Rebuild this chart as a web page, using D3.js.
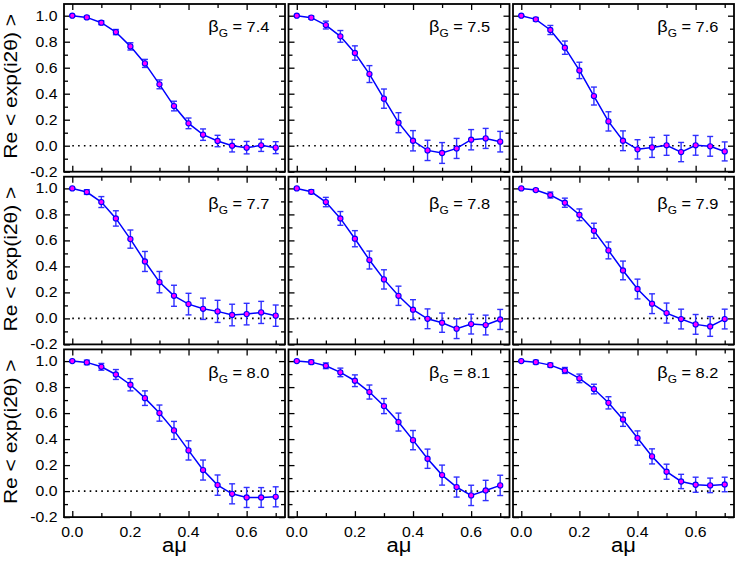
<!DOCTYPE html>
<html>
<head>
<meta charset="utf-8">
<script src="https://cdn.jsdelivr.net/npm/d3@7"></script>
<style>
  html, body { margin: 0; padding: 0; background: #fff; }
  svg { display: block; font-family: "Liberation Sans", Arial, sans-serif; }
</style>
</head>
<body>
<svg id="chart" width="736" height="561"></svg>
<script>
// ---------------- data ----------------
const aMu = [0.00, 0.05, 0.10, 0.15, 0.20, 0.25, 0.30, 0.35, 0.40, 0.45, 0.50, 0.55, 0.60, 0.65, 0.70];
const betaLabels = ["7.4", "7.5", "7.6", "7.7", "7.8", "7.9", "8.0", "8.1", "8.2"];

const val74 = [1.000, 0.987, 0.946, 0.874, 0.764, 0.633, 0.472, 0.305, 0.172, 0.085, 0.036, 0.000, -0.015, 0.003, -0.015];
const err74 = [0.003, 0.010, 0.015, 0.020, 0.028, 0.031, 0.034, 0.037, 0.041, 0.044, 0.044, 0.048, 0.048, 0.047, 0.046];
const val75 = [1.000, 0.985, 0.928, 0.841, 0.713, 0.551, 0.362, 0.177, 0.038, -0.036, -0.056, -0.021, 0.046, 0.056, 0.031];
const err75 = [0.003, 0.012, 0.030, 0.045, 0.055, 0.065, 0.074, 0.077, 0.078, 0.078, 0.080, 0.077, 0.078, 0.077, 0.079];
const val76 = [1.000, 0.972, 0.890, 0.754, 0.579, 0.382, 0.187, 0.038, -0.028, -0.013, 0.003, -0.049, 0.003, -0.005, -0.044];
const err76 = [0.003, 0.014, 0.035, 0.051, 0.063, 0.069, 0.074, 0.076, 0.074, 0.077, 0.077, 0.074, 0.076, 0.076, 0.073];
const val77 = [1.000, 0.972, 0.895, 0.769, 0.610, 0.438, 0.279, 0.174, 0.110, 0.074, 0.054, 0.026, 0.033, 0.046, 0.021];
const err77 = [0.005, 0.018, 0.042, 0.059, 0.070, 0.077, 0.082, 0.081, 0.083, 0.082, 0.085, 0.083, 0.083, 0.085, 0.082];
const val78 = [1.000, 0.974, 0.895, 0.769, 0.613, 0.449, 0.300, 0.174, 0.067, -0.003, -0.033, -0.079, -0.044, -0.051, -0.008];
const err78 = [0.004, 0.015, 0.036, 0.053, 0.062, 0.069, 0.074, 0.074, 0.077, 0.076, 0.074, 0.076, 0.076, 0.076, 0.077];
const val79 = [1.000, 0.987, 0.949, 0.890, 0.797, 0.674, 0.523, 0.369, 0.226, 0.113, 0.041, -0.005, -0.046, -0.062, -0.005];
const err79 = [0.003, 0.010, 0.023, 0.035, 0.045, 0.058, 0.065, 0.072, 0.076, 0.076, 0.077, 0.076, 0.076, 0.076, 0.076];
const val80 = [1.000, 0.990, 0.956, 0.897, 0.818, 0.715, 0.600, 0.467, 0.313, 0.162, 0.046, -0.021, -0.049, -0.049, -0.044];
const err80 = [0.005, 0.017, 0.026, 0.038, 0.047, 0.056, 0.062, 0.069, 0.074, 0.077, 0.078, 0.077, 0.077, 0.076, 0.077];
const val81 = [1.000, 0.992, 0.964, 0.913, 0.849, 0.762, 0.654, 0.531, 0.392, 0.249, 0.123, 0.031, -0.033, 0.005, 0.044];
const err81 = [0.004, 0.015, 0.022, 0.033, 0.045, 0.054, 0.058, 0.069, 0.074, 0.074, 0.077, 0.077, 0.078, 0.078, 0.078];
const val82 = [1.000, 0.992, 0.969, 0.928, 0.867, 0.785, 0.679, 0.551, 0.408, 0.267, 0.149, 0.074, 0.049, 0.044, 0.051];
const err82 = [0.003, 0.014, 0.015, 0.023, 0.033, 0.037, 0.047, 0.053, 0.055, 0.058, 0.058, 0.055, 0.058, 0.056, 0.056];

const panelValues = [val74, val75, val76, val77, val78, val79, val80, val81, val82];
const panelErrors = [err74, err75, err76, err77, err78, err79, err80, err81, err82];

const xTicks = [0.0, 0.1, 0.2, 0.3, 0.4, 0.5, 0.6, 0.7];
const xTickLabels = ["0.0", "0.2", "0.4", "0.6"];
const yTicks = [-0.2, -0.1, 0.0, 0.1, 0.2, 0.3, 0.4, 0.5, 0.6, 0.7, 0.8, 0.9, 1.0];
const yTickLabels = ["-0.2", "0.0", "0.2", "0.4", "0.6", "0.8", "1.0"];

// ---------------- layout ----------------
const colLeft = [64, 288.5, 513];
const rowTop = [4, 176.7, 349.4];
const panelW = 221;
const panelH = 167.7;
const xDomain = [-0.0285, 0.732];
const yDomain = [-0.2, 1.09];
const labelX = [144.3, 140.5, 144.3];      // beta label offset from panel left
const labelY = [28, 32, 28.3];              // beta label baseline from panel top
const WIDE = 1.13;                          // horizontal glyph widening

const BLUE = "#0000ff";
const ERR = "#3030ff";
const MAGENTA = "#ff00ff";

const svg = d3.select("#chart");

function wideText(parent, x, y, size, anchor, str, rot) {
  const t = parent.append("text")
    .attr("transform", `translate(${x},${y})` + (rot ? ` rotate(${rot})` : "") + ` scale(${WIDE},1)`)
    .attr("text-anchor", anchor).attr("font-size", size).attr("fill", "#000");
  if (str !== null) t.text(str);
  return t;
}

panelValues.forEach((vals, i) => {
  const r = Math.floor(i / 3), c = i % 3;
  const x0 = colLeft[c], y0 = rowTop[r];
  const x = d3.scaleLinear().domain(xDomain).range([x0, x0 + panelW]);
  const y = d3.scaleLinear().domain(yDomain).range([y0 + panelH, y0]);
  const g = svg.append("g");
  const errs = panelErrors[i];

  const isMajor = d => Math.abs(Math.round(d * 10) % 2) === 0;

  const axB = g.append("g").attr("transform", `translate(0,${y0 + panelH})`)
    .call(d3.axisBottom(x).tickValues(xTicks).tickSize(0).tickFormat(""));
  const axT = g.append("g").attr("transform", `translate(0,${y0})`)
    .call(d3.axisTop(x).tickValues(xTicks).tickSize(0).tickFormat(""));
  const axL = g.append("g").attr("transform", `translate(${x0},0)`)
    .call(d3.axisLeft(y).tickValues(yTicks).tickSize(0).tickFormat(""));
  const axR = g.append("g").attr("transform", `translate(${x0 + panelW},0)`)
    .call(d3.axisRight(y).tickValues(yTicks).tickSize(0).tickFormat(""));
  [axB, axT, axL, axR].forEach(a => a.select(".domain").remove());
  axB.selectAll(".tick line").attr("y2", d => -(isMajor(d) ? 6 : 4)).attr("stroke", "#000").attr("stroke-width", 1.3);
  axT.selectAll(".tick line").attr("y2", d => (isMajor(d) ? 6 : 4)).attr("stroke", "#000").attr("stroke-width", 1.3);
  axL.selectAll(".tick line").attr("x2", d => (isMajor(d) ? 6 : 4)).attr("stroke", "#000").attr("stroke-width", 1.3);
  axR.selectAll(".tick line").attr("x2", d => -(isMajor(d) ? 6 : 4)).attr("stroke", "#000").attr("stroke-width", 1.3);

  // frame
  g.append("rect").attr("x", x0).attr("y", y0).attr("width", panelW).attr("height", panelH)
    .attr("fill", "none").attr("stroke", "#000").attr("stroke-width", 1.8);

  // zero dotted line
  g.append("line").attr("x1", x(0)).attr("x2", x(0.7)).attr("y1", y(0)).attr("y2", y(0))
    .attr("stroke", "#000").attr("stroke-width", 1.6).attr("stroke-dasharray", "1.6,4.2");

  // error bars
  const eb = g.append("g").attr("stroke", ERR).attr("stroke-width", 1.4);
  vals.forEach((v, k) => {
    const e = errs[k];
    const xx = x(aMu[k]);
    eb.append("line").attr("x1", xx).attr("x2", xx).attr("y1", y(v - e)).attr("y2", y(v + e));
    eb.append("line").attr("x1", xx - 3).attr("x2", xx + 3).attr("y1", y(v - e)).attr("y2", y(v - e));
    eb.append("line").attr("x1", xx - 3).attr("x2", xx + 3).attr("y1", y(v + e)).attr("y2", y(v + e));
  });

  // line
  const line = d3.line().x((d, k) => x(aMu[k])).y(d => y(d));
  g.append("path").datum(vals).attr("d", line).attr("fill", "none")
    .attr("stroke", BLUE).attr("stroke-width", 1.5);

  // markers
  g.selectAll("circle.pt").data(vals).join("circle").attr("class", "pt")
    .attr("cx", (d, k) => x(aMu[k])).attr("cy", d => y(d)).attr("r", 2.6)
    .attr("fill", MAGENTA).attr("stroke", BLUE).attr("stroke-width", 1.1);

  // beta label
  const t = wideText(g, x0 + labelX[c], y0 + labelY[r], 14.5, "start", null);
  t.append("tspan").attr("font-size", 16).text("β");
  t.append("tspan").attr("font-size", 10.5).attr("dy", 5).text("G");
  t.append("tspan").attr("dy", -5).text(" = " + betaLabels[i]);

  // y tick labels + title
  if (c === 0) {
    yTickLabels.forEach(s => {
      wideText(g, x0 - 6.5, y(+s) + 5, 14, "end", s);
    });
    wideText(g, 16.8, y0 + panelH / 2 - 1.5, 18.6, "middle", "Re < exp(i2θ) >", -90);
  }
  // x tick labels + title
  if (r === 2) {
    xTickLabels.forEach(s => {
      wideText(g, x(+s), y0 + panelH + 20, 14, "middle", s);
    });
    wideText(g, x0 + panelW / 2, 551.5, 19.5, "middle", "aμ");
  }
});
</script>
</body>
</html>
